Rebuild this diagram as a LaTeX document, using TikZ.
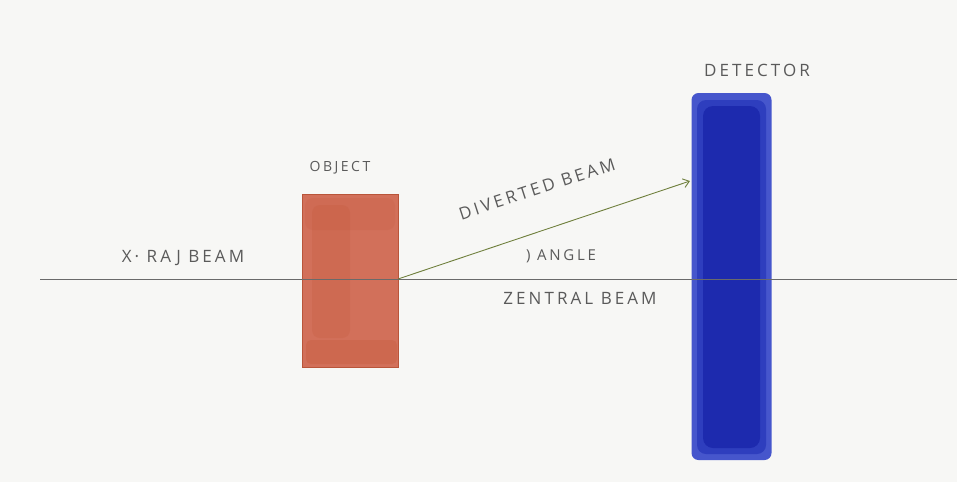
\documentclass[tikz,border=0pt]{standalone}
\usepackage{fontspec}
\setmainfont{Open Sans}[LetterSpace=18]
\usetikzlibrary{arrows.meta}
\definecolor{bg}{HTML}{F7F7F5}
\definecolor{beamgray}{HTML}{6A6A6A}
\definecolor{objfill}{HTML}{D2705A}
\definecolor{objdark}{HTML}{C45A3C}
\definecolor{objedge}{HTML}{B9553A}
\definecolor{detfill}{HTML}{4656CC}
\definecolor{detmid}{HTML}{2E3EBE}
\definecolor{detdark}{HTML}{1D2AAE}
\definecolor{arrowgreen}{HTML}{6F7F3C}
\definecolor{txt}{HTML}{5A5A5A}
\begin{document}
\begin{tikzpicture}[x=1pt,y=-1pt,
  lbl/.style={text=txt,font=\fontsize{17}{17}\selectfont,inner sep=0pt},
  objbox/.style={draw=objedge,line width=0.6pt,fill=objfill,minimum width=96pt,minimum height=173pt,inner sep=0pt},
  detbox/.style={fill=detfill,rounded corners=7pt,minimum width=80pt,minimum height=367pt,inner sep=0pt},
  beam/.style={draw=beamgray,line width=1pt},
  divbeam/.style={draw=arrowgreen,line width=0.9pt,-{Straight Barb[length=6pt,width=9pt]}}]
\fill[bg] (0,0) rectangle (957,482);
\useasboundingbox (0,0) rectangle (957,482);
% object
\node[objbox] (obj) at (350,280.5) {};
\fill[objdark,opacity=0.35,rounded corners=5pt] (306,340) rectangle (397,364);
\fill[objdark,opacity=0.25,rounded corners=8pt] (312,205) rectangle (350,338);
\fill[objdark,opacity=0.2,rounded corners=8pt] (305,198) rectangle (395,230);
% detector
\node[detbox] (det) at (731.5,276.5) {};
\fill[detmid,rounded corners=9pt] (697,100) rectangle (766,454);
\fill[detdark,rounded corners=10pt] (703,106) rectangle (760,448);
% beams
\coordinate (start) at (40,279);
\coordinate (end) at (957,279);
\draw[beam] (start) -- (end);
\coordinate (hit) at (690,181);
\coordinate (src) at (398,279);
\draw[divbeam] (src) -- (hit);
% labels
\node[lbl] (xray) at (183,258) {X· RAJ BEAM};
\node[lbl,font=\fontsize{14}{14}\selectfont] (objlbl) at (340,168) {OBJECT};
\node[lbl,rotate=18] (div) at (537,189) {DIVERTED BEAM};
\node[lbl,font=\fontsize{15}{15}\selectfont] (ang) at (561,256) {) ANGLE};
\node[lbl] (central) at (580,298) {ZENTRAL BEAM};
\node[lbl] (detlbl) at (757,70) {DETECTOR};
\end{tikzpicture}
\end{document}
